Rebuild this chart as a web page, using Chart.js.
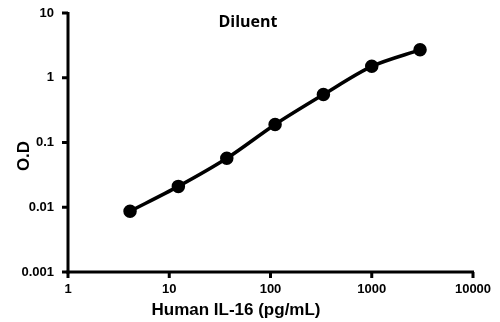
<!DOCTYPE html>
<html>
<head>
<meta charset="utf-8">
<script src="https://cdn.jsdelivr.net/npm/chart.js@4"></script>
<style>
  html, body { margin: 0; padding: 0; background: #fff; }
</style>
</head>
<body>
<canvas id="curve" width="500" height="322"></canvas>
<script>
// standard curve values
const concentration = [4.1, 12.3, 37, 111, 333, 1000, 3000];
const od = [0.0087, 0.021, 0.057, 0.19, 0.55, 1.5, 2.7];
const xTicks = [1, 10, 100, 1000, 10000];
const yTicks = [0.001, 0.01, 0.1, 1, 10];

const chartTitle = 'Diluent';
const xTitle = 'Human IL-16 (pg/mL)';
const yTitle = 'O.D';

const tickFont = { family: 'Liberation Sans, Arial, sans-serif', size: 13, weight: 'bold' };

// thick axis lines with outward tick marks, as in the original
const axisLines = {
    id: 'axisLines',
    afterDatasetsDraw(chart) {
        const { ctx, chartArea: a, scales } = chart;
        ctx.save();
        ctx.fillStyle = '#000';
        ctx.fillRect(a.left - 1.5, a.top - 1, 3, a.bottom - a.top + 2.5);
        ctx.fillRect(a.left - 1.5, a.bottom - 1.5, a.right - a.left + 2.5, 3);
        xTicks.forEach(v => {
            const px = scales.x.getPixelForValue(v);
            ctx.fillRect(px - 1.5, a.bottom, 3, 6);
        });
        yTicks.forEach(v => {
            const py = scales.y.getPixelForValue(v);
            ctx.fillRect(a.left - 6, py - 1.5, 6, 3);
        });
        ctx.restore();
    }
};

// titles sit inside / off-centre like the original, so draw them by hand
const titles = {
    id: 'titles',
    afterDraw(chart) {
        const ctx = chart.ctx;
        ctx.save();
        ctx.fillStyle = '#000';
        ctx.textAlign = 'center';
        ctx.textBaseline = 'middle';
        ctx.font = 'bold 16px "Open Sans", sans-serif';
        ctx.fillText(chartTitle, 248, 22);
        ctx.font = 'bold 17px "Liberation Sans", Arial, sans-serif';
        ctx.fillText(xTitle, 236, 310);
        ctx.translate(24, 156);
        ctx.rotate(-Math.PI / 2);
        ctx.fillText(yTitle, 0, 0);
        ctx.restore();
    }
};

const ctx = document.getElementById('curve').getContext('2d');

const curveChart = new Chart(ctx, {
    type: 'line',
    data: {
        datasets: [{
            label: chartTitle,
            data: concentration.map((c, i) => ({ x: c, y: od[i] })),
            borderColor: '#000',
            backgroundColor: '#000',
            borderWidth: 3.5,
            pointRadius: 5,
            pointHoverRadius: 5,
            tension: 0.3,
            fill: false
        }]
    },
    options: {
        responsive: false,
        animation: false,
        layout: { padding: { top: 13, right: 27, left: 0, bottom: 0 } },
        plugins: {
            legend: { display: false },
            tooltip: { enabled: false }
        },
        scales: {
            x: {
                type: 'logarithmic',
                min: 1,
                max: 10000,
                afterBuildTicks: (s) => { s.ticks = xTicks.map(v => ({ value: v })); },
                afterFit: (s) => { s.height = 50; s.paddingLeft = 0; s.paddingRight = 0; },
                ticks: {
                    color: '#000',
                    font: tickFont,
                    maxRotation: 0,
                    padding: 10,
                    callback: (v) => String(v)
                },
                grid: { display: false, drawTicks: false },
                border: { display: false }
            },
            y: {
                type: 'logarithmic',
                min: 0.001,
                max: 10,
                afterBuildTicks: (s) => { s.ticks = yTicks.map(v => ({ value: v })); },
                afterFit: (s) => { s.width = 68; s.paddingTop = 0; s.paddingBottom = 0; },
                ticks: {
                    color: '#000',
                    font: tickFont,
                    padding: 14,
                    callback: (v) => String(v)
                },
                grid: { display: false, drawTicks: false },
                border: { display: false }
            }
        }
    },
    plugins: [axisLines, titles]
});
</script>
</body>
</html>
